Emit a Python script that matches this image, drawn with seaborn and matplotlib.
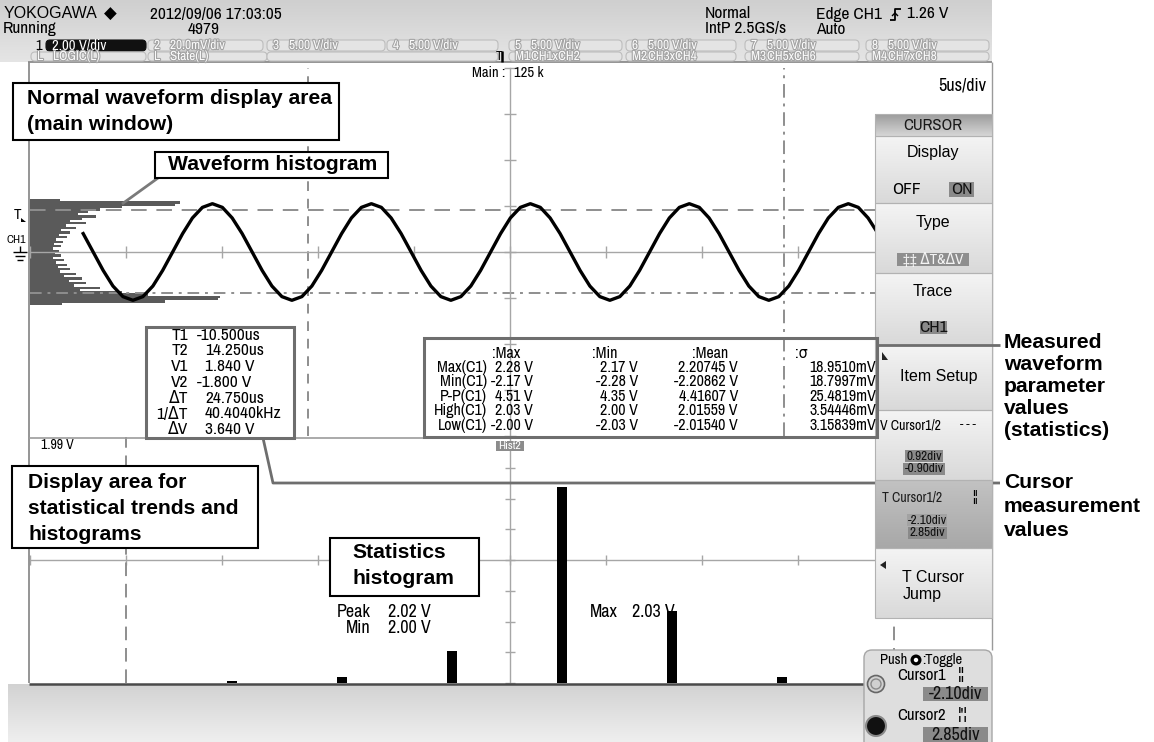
import os
import re
import numpy as np
import matplotlib
matplotlib.use("Agg")
import matplotlib.pyplot as plt
import seaborn as sns
from matplotlib import font_manager as fm
from matplotlib.textpath import TextToPath
from matplotlib.patches import Rectangle, FancyBboxPatch, Circle, Polygon
from matplotlib.colors import LinearSegmentedColormap
import matplotlib.patheffects as pe

# ---- values ----
# CH1 trace, time (us, trigger at 0) and volts
wave_t_us = [
    -22.23, -21.71, -21.19, -20.68, -20.16,
    -19.64, -19.12, -18.60, -18.09, -17.57, -17.05, -16.54, -16.02,
    -15.50, -14.98, -14.47, -13.95, -13.43, -12.91, -12.40, -11.88,
    -11.36, -10.84, -10.32, -9.81, -9.29, -8.77, -8.26, -7.74,
    -7.22, -6.70, -6.19, -5.67, -5.15, -4.63, -4.12, -3.60,
    -3.08, -2.56, -2.04, -1.53, -1.01, -0.49, 0.02, 0.54,
    1.06, 1.58, 2.09, 2.61, 3.13, 3.65, 4.16, 4.68,
    5.20, 5.72, 6.24, 6.75, 7.27, 7.79, 8.30, 8.82,
    9.34, 9.86, 10.37, 10.89, 11.41, 11.93, 12.44, 12.96,
    13.48, 14.00, 14.52, 15.03, 15.55, 16.07, 16.58, 17.10,
    17.62, 18.14, 18.65, 19.17]
wave_v = [
    0.80, 0.00, -0.80, -1.48, -1.94,
    -2.10, -1.94, -1.48, -0.80, 0.00, 0.80, 1.48, 1.94,
    2.10, 1.94, 1.48, 0.80, 0.00, -0.80, -1.48, -1.94,
    -2.10, -1.94, -1.48, -0.80, 0.00, 0.80, 1.48, 1.94,
    2.10, 1.94, 1.48, 0.80, 0.00, -0.80, -1.48, -1.94,
    -2.10, -1.94, -1.48, -0.80, 0.00, 0.80, 1.48, 1.94,
    2.10, 1.94, 1.48, 0.80, 0.00, -0.80, -1.48, -1.94,
    -2.10, -1.94, -1.48, -0.80, 0.00, 0.80, 1.48, 1.94,
    2.10, 1.94, 1.48, 0.80, 0.00, -0.80, -1.48, -1.94,
    -2.10, -1.94, -1.48, -0.80, 0.00, 0.80, 1.48, 1.94,
    2.10, 1.94, 1.48, 0.80]

# waveform histogram (left edge of the main window)
wf_hist_level_v = [2.25, 2.15, 2.05, 1.95, 1.85, 1.75, 1.65, 1.55, 1.45, 1.35, 1.25, 1.15,
                   1.05, 0.95, 0.85, 0.75, 0.65, 0.55, 0.45, 0.35, 0.25, 0.15, 0.05,
                   -0.05, -0.15, -0.25, -0.35, -0.45, -0.55, -0.65, -0.75, -0.85, -0.95,
                   -1.05, -1.15, -1.25, -1.35, -1.45, -1.55, -1.65, -1.75, -1.85, -1.95,
                   -2.05, -2.15, -2.25]
wf_hist_count = [30, 150, 145, 92, 70, 58, 48, 66, 52, 40, 56, 36,
                 46, 31, 40, 29, 37, 26, 33, 24, 31, 23, 29,
                 25, 31, 23, 34, 26, 37, 28, 40, 30, 46,
                 34, 52, 39, 56, 44, 70, 50, 92, 118, 190,
                 188, 135, 32]

# statistics histogram (Hist2, High(C1))
hist2_level_v = [1.99, 2.00, 2.01, 2.02, 2.03, 2.04]
hist2_count = [1, 3, 16, 98, 36, 3]

# cursors
cursor_t1_us, cursor_t2_us = -10.5, 14.25
cursor_v1, cursor_v2 = 1.84, -1.80
volts_per_div, us_per_div = 2.0, 5.0

# measured parameters
meas_items = ["Max(C1)", "Min(C1)", "P-P(C1)", "High(C1)", "Low(C1)"]
meas_max = [2.28, -2.17, 4.51, 2.03, -2.00]
meas_min = [2.17, -2.28, 4.35, 2.00, -2.03]
meas_mean = [2.20745, -2.20862, 4.41607, 2.01559, -2.01540]
meas_sigma_mv = [18.9510, 18.7997, 25.4819, 3.54446, 3.15839]

channel_scales = ["2.00 V/div", "20.0mV/div", "5.00 V/div", "5.00 V/div",
                  "5.00 V/div", "5.00 V/div", "5.00 V/div", "5.00 V/div"]
math_defs = ["CH1xCH2", "CH3xCH4", "CH5xCH6", "CH7xCH8"]

# ---- fonts: the scope uses a condensed face ----
ARIAL = ["Liberation Sans", "DejaVu Sans"]
_ttp = TextToPath()


def digit_em(prop):
    p = prop.copy()
    p.set_size(10)
    w, _, _ = _ttp.get_text_width_height_descent("0123456789", p, ismath=False)
    return w / 100.0


entries = [f for f in fm.fontManager.ttflist
           if re.search("Narrow|Condensed", os.path.basename(f.fname))
           and not re.search("Bold|Italic|Oblique|Light|Thin|Black|Medium|ExtraCondensed|Semi",
                             os.path.basename(f.fname))]
if entries:
    best = min(entries, key=lambda f: abs(digit_em(fm.FontProperties(fname=f.fname)) - 0.456))
    NARROW_FAMILY = [best.name, "DejaVu Sans"]
    NARROW_STRETCH = best.stretch
else:
    NARROW_FAMILY = ["Liberation Sans", "DejaVu Sans"]
    NARROW_STRETCH = "normal"
NARROW_SCALE = min(1.1, max(0.78, 0.456 / digit_em(
    fm.FontProperties(family=NARROW_FAMILY, stretch=NARROW_STRETCH))))
NARROW = "narrow"

# ---- figure in screen pixels ----
W, H = 1154, 742
GRID = "#a6a6a6"

fig = plt.figure(figsize=(W / 100, H / 100), dpi=100, facecolor="white")


def frac(x0, y0, x1, y1):
    return [x0 / W, 1 - y1 / H, (x1 - x0) / W, (y1 - y0) / H]


def gradient(ax, x0, y0, x1, y1, c0, c1, z=0):
    cmap = LinearSegmentedColormap.from_list("g", [c0, c1])
    ax.imshow(np.linspace(0, 1, 64).reshape(-1, 1), cmap=cmap, extent=(x0, x1, y1, y0),
              origin="upper", aspect="auto", interpolation="bilinear", zorder=z)


ax_bg = fig.add_axes([0, 0, 1, 1])
gradient(ax_bg, 0, 0, 992, 62, "#cfcfcf", "#e5e5e5")
gradient(ax_bg, 8, 684, 866, 742, "#d2d2d2", "#efefef")
ax_bg.set_xlim(0, W)
ax_bg.set_ylim(H, 0)
ax_bg.axis("off")

# ---- main window: time (us) x volts ----
ax_main = fig.add_axes(frac(30, 68, 990, 436))
ax_main.patch.set_visible(False)
ax_main.barh(wf_hist_level_v, np.array(wf_hist_count) * us_per_div / 96, left=-25,
             height=0.1, color="#5a5a5a", linewidth=0, zorder=1)
sns.lineplot(x=wave_t_us, y=wave_v, ax=ax_main, color="black", linewidth=2.4,
             sort=False, estimator=None, zorder=3)
ax_main.axvline(cursor_t1_us, color="#8e8e8e", lw=1.4, dashes=(5, 4), zorder=2)
ax_main.axvline(cursor_t2_us, color="#8e8e8e", lw=1.4, dashes=(7, 3, 1.5, 3), zorder=2)
ax_main.axhline(cursor_v1, color="#8e8e8e", lw=1.4, dashes=(8, 5), zorder=2)
ax_main.axhline(cursor_v2, color="#8e8e8e", lw=1.4, dashes=(6, 3, 1.5, 3), zorder=2)
ax_main.set_xlim(-5 * us_per_div, 5 * us_per_div)
ax_main.set_ylim(-4 * volts_per_div, 4 * volts_per_div)
ax_main.set_xticks(np.arange(-25, 26, 5))
ax_main.set_yticks(np.arange(-8, 9, 2))


def center_axes(ax, tick_len):
    for s in ["top", "right"]:
        ax.spines[s].set_visible(False)
    for s in ["left", "bottom"]:
        ax.spines[s].set_position("zero")
        ax.spines[s].set_color(GRID)
        ax.spines[s].set_linewidth(1)
    ax.tick_params(direction="inout", length=tick_len, width=1, colors=GRID,
                   labelbottom=False, labelleft=False)
    ax.set_xlabel("")
    ax.set_ylabel("")


center_axes(ax_main, 8)

# ---- statistics area: div grid + histogram ----
ax_g2 = fig.add_axes(frac(30, 437, 990, 683))
ax_g2.patch.set_visible(False)
ax_g2.set_xlim(-5, 5)
ax_g2.set_ylim(-4, 4)
ax_g2.set_xticks(range(-5, 6))
ax_g2.set_yticks(range(-4, 5))
ax_g2.axvline(-4, color="#8e8e8e", lw=1.4, dashes=(7, 4))
ax_g2.axvline(4, color="#8e8e8e", lw=1.4, dashes=(7, 4))
center_axes(ax_g2, 7)

ax_h = fig.add_axes(frac(30, 437, 990, 683))
ax_h.patch.set_visible(False)
sns.barplot(x=hist2_level_v, y=hist2_count, native_scale=True, width=0.09, color="black",
            saturation=1, errorbar=None, linewidth=0, orient="x", ax=ax_h)
px_per_volt, anchor_v, anchor_px = 11000, 2.02, 562
ax_h.set_xlim(anchor_v - (anchor_px - 30) / px_per_volt, anchor_v + (990 - anchor_px) / px_per_volt)
ax_h.set_ylim(0, 123)
ax_h.axis("off")

# ---- overlay: screen furniture and callouts ----
ax = fig.add_axes([0, 0, 1, 1])
ax.patch.set_visible(False)


def txt(x, y, s, size=11, fam=NARROW, ha="left", va="center", color="black", weight="normal", z=8, **kw):
    if fam == NARROW:
        return ax.text(x, y, s, family=NARROW_FAMILY, fontstretch=NARROW_STRETCH,
                       fontsize=size * NARROW_SCALE, weight=weight, ha=ha, va=va,
                       color=color, zorder=z, **kw)
    return ax.text(x, y, s, fontsize=size, family=fam, ha=ha, va=va, color=color,
                   weight=weight, zorder=z, **kw)


def line(xs, ys, color="#8a8a8a", lw=1.2, z=2, **kw):
    ax.plot(xs, ys, color=color, lw=lw, zorder=z, solid_capstyle="butt", **kw)


# window borders
line([28, 992], [62, 62], "#8c8c8c", 1.3)
line([29, 29], [62, 683], "#8c8c8c", 1.3)
line([29, 876], [437.5, 437.5], "#9c9c9c", 1.2)
line([29, 870], [683.5, 683.5], "#4a4a4a", 1.8)
line([992, 992], [62, 650], "#9a9a9a", 1.0)

# header
txt(4, 14, "YOKOGAWA", 11.5, ARIAL)
txt(104, 14, "◆", 12, ["DejaVu Sans"])
txt(150, 14, "2012/09/06 17:03:05", 12.5)
txt(3, 29, "Running", 12.5)
txt(188, 29, "4979", 12.5)
txt(705, 14, "Normal", 12.5)
txt(705, 29, "IntP 2.5GS/s", 12.5)
txt(816, 14, "Edge CH1", 12.5)
line([890, 895, 895, 901], [20, 20, 9, 9], "black", 1.3, z=8)
line([892, 895, 898], [16, 13, 16], "black", 1.0, z=8)
txt(907, 14, "1.26 V", 12.5)
txt(816, 29, "Auto", 12.5)

halo = [pe.withStroke(linewidth=1.6, foreground="#a4a4a4")]


def tab(x0, x1, y0, y1, num, label):
    ax.add_patch(FancyBboxPatch((x0, y0), x1 - x0, y1 - y0, boxstyle="round,pad=0,rounding_size=4",
                                fc="#e4e4e4", ec="#bdbdbd", lw=0.8, zorder=4))
    if label:
        txt(x0 + 6, (y0 + y1) / 2, num, 9.5, color="#fbfbfb", z=5, path_effects=halo)
        txt(x0 + 22, (y0 + y1) / 2, label, 9.5, color="#fbfbfb", z=5, path_effects=halo)


txt(35, 45.5, "1", 10.5, z=5, weight="bold")
ax.add_patch(FancyBboxPatch((46, 40), 100, 11, boxstyle="round,pad=0,rounding_size=4",
                            fc="#111111", ec="#111111", lw=0.8, zorder=4))
txt(52, 45.5, channel_scales[0], 10.5, color="white", z=5)
row1 = [(148, 263), (267, 385), (387, 498), (509, 622), (626, 736), (745, 859), (866, 989)]
for i, (x0, x1) in enumerate(row1):
    tab(x0, x1, 40, 51, str(i + 2), channel_scales[i + 1])
tab(31, 146, 52, 61, "L", "LOGIC(L)")
tab(148, 267, 52, 61, "L", "State(L)")
tab(267, 498, 52, 61, "", "")
row2 = [(509, 622), (626, 736), (745, 859), (866, 989)]
for i, (x0, x1) in enumerate(row2):
    tab(x0, x1, 52, 61, "M%d" % (i + 1), math_defs[i])
txt(499, 56, "T", 9.5, ha="center", z=6, weight="bold")
line([502, 502], [51, 62], "black", 1.8, z=6)

# main window labels
txt(505, 73, "Main :", 10.5, ha="right")
txt(514, 73, "125 k", 10.5)
txt(986, 85, "5us/div", 13, ha="right")
txt(17, 215, "T", 11, ha="center", weight="bold")
ax.add_patch(Polygon([[21, 218], [26, 222], [21, 222]], closed=True, fc="black", zorder=8))
txt(16, 240, "CH1", 8.5, ha="center")
line([20, 20], [246, 252], "black", 1, z=8)
line([13, 27], [252, 252], "black", 1, z=8)
line([15, 25], [256, 256], "black", 1, z=8)
line([17, 23], [260, 260], "black", 1, z=8)

# statistics-area labels
txt(41, 445, "1.99 V", 10)
ax.add_patch(Rectangle((496, 441), 28, 10, fc="#8c8c8c", ec="none", zorder=7))
txt(510, 446, "Hist2", 8.5, ha="center", color="white", weight="bold")
txt(371, 612, "Peak", 13, ha="right")
txt(388, 612, "%.2f V" % 2.02, 13)
txt(371, 628, "Min", 13, ha="right")
txt(388, 628, "%.2f V" % 2.00, 13)
txt(590, 612, "Max", 13)
txt(632, 612, "%.2f V" % 2.03, 13)

# cursor value box
ax.add_patch(Rectangle((146, 327), 148, 111, fc="white", ec="#6e6e6e", lw=2.2, zorder=6))
dT = cursor_t2_us - cursor_t1_us
cur_labels = ["T1", "T2", "V1", "V2", "ΔT", "1/ΔT", "ΔV"]
cur_values = ["%.3fus" % cursor_t1_us, "%.3fus" % cursor_t2_us, "%.3f V" % cursor_v1,
              "%.3f V" % cursor_v2, "%.3fus" % dT, "%.4fkHz" % (1000 / dT),
              "%.3f V" % (cursor_v1 - cursor_v2)]
for i, (lab, val) in enumerate(zip(cur_labels, cur_values)):
    y = 335 + 15.8 * i
    txt(188, y, lab, 12.5, ha="right")
    txt(197 if val.startswith("-") else 205, y, val, 12.5)

# measurement statistics box
ax.add_patch(Rectangle((424, 338), 453, 99, fc="none", ec="#6e6e6e", lw=2.2, zorder=6))
for hx, h in zip([492, 592, 692, 795], [":Max", ":Min", ":Mean", ":σ"]):
    txt(hx, 353, h, 11.5)
cols = [["%.2f V" % v for v in meas_max], ["%.2f V" % v for v in meas_min],
        ["%.5f V" % v for v in meas_mean], ["%#.6gmV" % v for v in meas_sigma_mv]]
for r, item in enumerate(meas_items):
    y = 367.5 + 14.4 * r
    txt(487, y, item, 11.5, ha="right")
    for cx, col in zip([533, 638, 738, 876], cols):
        txt(cx, y, col[r], 11.5, ha="right")

# leaders
line([878, 1000], [345, 345], "#6e6e6e", 2.0, z=9)
line([263, 273, 1000], [438, 483, 483], "#6e6e6e", 2.0, z=2)
line([158, 122], [178, 204], "#7a7a7a", 2.0, z=6)

# side menu
MX0, MX1 = 875, 992


def section(y0, y1, c0="#f4f4f4", c1="#d9d9d9"):
    gradient(ax, MX0, y0, MX1, y1, c0, c1, z=3)
    ax.add_patch(Rectangle((MX0, y0), MX1 - MX0, y1 - y0, fc="none", ec="#b2b2b2", lw=0.8, zorder=3.5))


def chip(x0, y0, x1, y1, label, fc="#8a8a8a", color="#111111", size=11):
    ax.add_patch(Rectangle((x0, y0), x1 - x0, y1 - y0, fc=fc, ec="none", zorder=4))
    txt((x0 + x1) / 2, (y0 + y1) / 2, label, size, ha="center", color=color)


section(114, 136, "#9c9c9c", "#d6d6d6")
section(136, 203)
section(203, 273)
section(273, 345)
section(345, 410)
section(410, 480)
section(480, 548, "#c2c2c2", "#a8a8a8")
section(548, 618)

txt(933, 125, "CURSOR", 12, ha="center", color="#1a1a1a", weight="bold")
txt(933, 152, "Display", 11.5, ARIAL, ha="center")
txt(892, 189, "OFF", 12.5)
chip(949, 182, 974, 197, "ON", size=12.5)
txt(933, 223, "Type", 11.5, ARIAL, ha="center")
chip(897, 253, 969, 266, "‡‡ ΔT&ΔV", fc="#8e8e8e", color="#f4f4f4")
txt(933, 292, "Trace", 11.5, ARIAL, ha="center")
chip(920, 321, 947, 334, "CH1", size=12.5)
ax.add_patch(Polygon([[882, 352], [888, 360], [882, 360]], closed=True, fc="#222222", zorder=5))
txt(939, 377, "Item Setup", 11.5, ARIAL, ha="center")
txt(880, 425, "V Cursor1/2", 10)
txt(960, 425, "- - -", 9)
chip(905, 450, 943, 462, "%.2fdiv" % (cursor_v1 / volts_per_div), size=9.5)
chip(903, 463, 945, 475, "%.2fdiv" % (cursor_v2 / volts_per_div), size=9.5)
txt(882, 497, "T Cursor1/2", 10, color="#1e1e1e")
txt(972, 497, "¦¦", 10)
chip(907, 514, 947, 526, "%.2fdiv" % (cursor_t1_us / us_per_div), fc="#a2a2a2", size=9.5)
chip(908, 527, 947, 539, "%.2fdiv" % (cursor_t2_us / us_per_div), fc="#8a8a8a", size=9.5)
ax.add_patch(Polygon([[880, 565], [886, 561], [886, 569]], closed=True, fc="#222222", zorder=5))
txt(902, 578, "T Cursor", 11.5, ARIAL)
txt(903, 594, "Jump", 11.5, ARIAL)

# push/toggle panel
ax.add_patch(FancyBboxPatch((864, 650), 128, 100, boxstyle="round,pad=0,rounding_size=8",
                            fc="#dedede", ec="#a6a6a6", lw=1, zorder=3))
txt(880, 660, "Push", 10.5)
ax.add_patch(Circle((916, 660), 5.5, fc="black", zorder=6))
ax.add_patch(Circle((916, 660), 2.2, fc="white", zorder=7))
txt(922, 660, ":Toggle", 10.5)
txt(897, 675, "Cursor1", 12)
txt(958, 675, "¦¦", 12)
ax.add_patch(Circle((876, 684), 8.5, fc="#d0d0d0", ec="#666666", lw=1.2, zorder=6))
ax.add_patch(Circle((876, 684), 5, fc="none", ec="#8a8a8a", lw=1, zorder=7))
chip(923, 687, 988, 701, "%.2fdiv" % (cursor_t1_us / us_per_div), size=13)
txt(897, 715, "Cursor2", 12)
txt(958, 715, "¦'¦", 12)
ax.add_patch(Circle((876, 726), 10, fc="#111111", ec="#8a8a8a", lw=1.5, zorder=6))
chip(923, 727, 988, 742, "%.2fdiv" % (cursor_t2_us / us_per_div), size=13)

# callout boxes
BOLD = dict(fam=ARIAL, weight="bold", size=15.2, z=11)


def callout(x0, y0, x1, y1):
    ax.add_patch(Rectangle((x0, y0), x1 - x0, y1 - y0, fc="white", ec="black", lw=1.5, zorder=10))


callout(13, 83, 339, 140)
txt(27, 99, "Normal waveform display area", **BOLD)
txt(27, 125, "(main window)", **BOLD)
callout(155, 152, 388, 178)
txt(168, 165, "Waveform histogram", **BOLD)
callout(12, 466, 258, 548)
for y, s in zip([483, 508, 534], ["Display area for", "statistical trends and", "histograms"]):
    txt(28, y, s, **BOLD)
callout(330, 538, 479, 596)
txt(352, 553, "Statistics", **BOLD)
txt(352, 578, "histogram", **BOLD)
for y, s in zip([343, 365, 387, 409, 431], ["Measured", "waveform", "parameter", "values", "(statistics)"]):
    txt(1004, y, s, **BOLD)
for y, s in zip([483, 507, 530], ["Cursor", "measurement", "values"]):
    txt(1004, y, s, **BOLD)

ax.set_xlim(0, W)
ax.set_ylim(H, 0)
ax.axis("off")

fig.savefig("out.png", dpi=100, facecolor="white")
